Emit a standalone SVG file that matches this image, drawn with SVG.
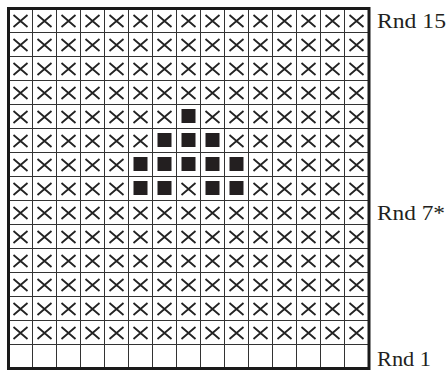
<svg xmlns="http://www.w3.org/2000/svg" xmlns:xlink="http://www.w3.org/1999/xlink" width="447" height="372" viewBox="0 0 447 372">
<style>
.grid{stroke:#333;stroke-width:1;fill:none}
.border{stroke:#1a1a1a;stroke-width:3;fill:none}
.x{stroke:#222;stroke-width:1.8;fill:none}
.sq{fill:#231f20}
.lbl{font-family:"Liberation Serif",serif;font-size:21px;fill:#231f20}
</style>
<defs>
<path id="xm" class="x" d="M5,6.5 L19,18.5 M19,6.5 L5,18.5"/>
<rect id="sq" class="sq" x="5" y="4.5" width="14" height="14"/>
<g id="xrow">
<use href="#xm" x="8.5"/><use href="#xm" x="32.5"/><use href="#xm" x="56.5"/><use href="#xm" x="80.5"/><use href="#xm" x="104.5"/><use href="#xm" x="128.5"/><use href="#xm" x="152.5"/><use href="#xm" x="176.5"/><use href="#xm" x="200.5"/><use href="#xm" x="224.5"/><use href="#xm" x="248.5"/><use href="#xm" x="272.5"/><use href="#xm" x="296.5"/><use href="#xm" x="320.5"/><use href="#xm" x="344.5"/>
</g>
</defs>
<rect x="8.5" y="8.5" width="360" height="360" fill="#fff"/>
<path class="grid" d="M32.5,8.5V368.5M56.5,8.5V368.5M80.5,8.5V368.5M104.5,8.5V368.5M128.5,8.5V368.5M152.5,8.5V368.5M176.5,8.5V368.5M200.5,8.5V368.5M224.5,8.5V368.5M248.5,8.5V368.5M272.5,8.5V368.5M296.5,8.5V368.5M320.5,8.5V368.5M344.5,8.5V368.5
M8.5,32.5H368.5M8.5,56.5H368.5M8.5,80.5H368.5M8.5,104.5H368.5M8.5,128.5H368.5M8.5,152.5H368.5M8.5,176.5H368.5M8.5,200.5H368.5M8.5,224.5H368.5M8.5,248.5H368.5M8.5,272.5H368.5M8.5,296.5H368.5M8.5,320.5H368.5M8.5,344.5H368.5"/>
<g id="marks">
<use href="#xrow" y="8.5"/>
<use href="#xrow" y="32.5"/>
<use href="#xrow" y="56.5"/>
<use href="#xrow" y="80.5"/>
<g transform="translate(0,104.5)">
<use href="#xm" x="8.5"/><use href="#xm" x="32.5"/><use href="#xm" x="56.5"/><use href="#xm" x="80.5"/><use href="#xm" x="104.5"/><use href="#xm" x="128.5"/><use href="#xm" x="152.5"/><use href="#sq" x="176.5"/><use href="#xm" x="200.5"/><use href="#xm" x="224.5"/><use href="#xm" x="248.5"/><use href="#xm" x="272.5"/><use href="#xm" x="296.5"/><use href="#xm" x="320.5"/><use href="#xm" x="344.5"/>
</g>
<g transform="translate(0,128.5)">
<use href="#xm" x="8.5"/><use href="#xm" x="32.5"/><use href="#xm" x="56.5"/><use href="#xm" x="80.5"/><use href="#xm" x="104.5"/><use href="#xm" x="128.5"/><use href="#sq" x="152.5"/><use href="#sq" x="176.5"/><use href="#sq" x="200.5"/><use href="#xm" x="224.5"/><use href="#xm" x="248.5"/><use href="#xm" x="272.5"/><use href="#xm" x="296.5"/><use href="#xm" x="320.5"/><use href="#xm" x="344.5"/>
</g>
<g transform="translate(0,152.5)">
<use href="#xm" x="8.5"/><use href="#xm" x="32.5"/><use href="#xm" x="56.5"/><use href="#xm" x="80.5"/><use href="#xm" x="104.5"/><use href="#sq" x="128.5"/><use href="#sq" x="152.5"/><use href="#sq" x="176.5"/><use href="#sq" x="200.5"/><use href="#sq" x="224.5"/><use href="#xm" x="248.5"/><use href="#xm" x="272.5"/><use href="#xm" x="296.5"/><use href="#xm" x="320.5"/><use href="#xm" x="344.5"/>
</g>
<g transform="translate(0,176.5)">
<use href="#xm" x="8.5"/><use href="#xm" x="32.5"/><use href="#xm" x="56.5"/><use href="#xm" x="80.5"/><use href="#xm" x="104.5"/><use href="#sq" x="128.5"/><use href="#sq" x="152.5"/><use href="#xm" x="176.5"/><use href="#sq" x="200.5"/><use href="#sq" x="224.5"/><use href="#xm" x="248.5"/><use href="#xm" x="272.5"/><use href="#xm" x="296.5"/><use href="#xm" x="320.5"/><use href="#xm" x="344.5"/>
</g>
<use href="#xrow" y="200.5"/>
<use href="#xrow" y="224.5"/>
<use href="#xrow" y="248.5"/>
<use href="#xrow" y="272.5"/>
<use href="#xrow" y="296.5"/>
<use href="#xrow" y="320.5"/>
</g>
<rect class="border" x="8.5" y="8.5" width="360.5" height="360"/>
<g id="labels">
<text class="lbl" x="377" y="28" textLength="69" lengthAdjust="spacingAndGlyphs">Rnd 15</text>
<text class="lbl" x="377" y="220" textLength="68" lengthAdjust="spacingAndGlyphs">Rnd 7*</text>
<text class="lbl" x="377" y="366" textLength="54" lengthAdjust="spacingAndGlyphs">Rnd 1</text>
</g>
</svg>
